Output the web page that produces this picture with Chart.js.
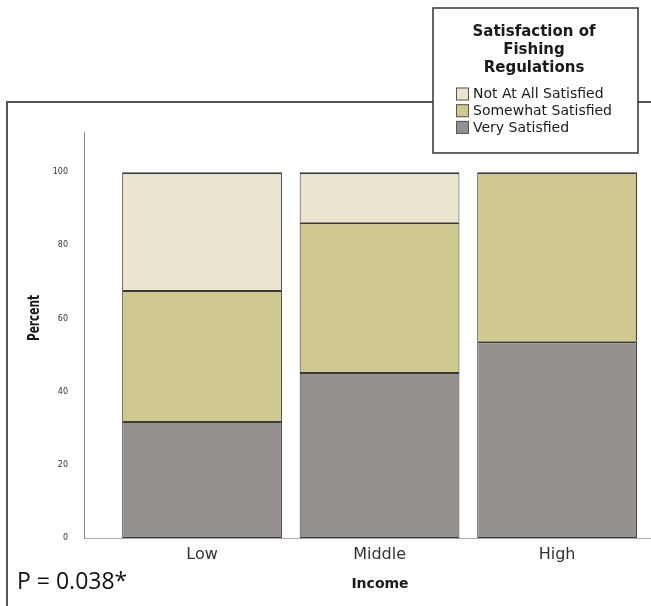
<!DOCTYPE html>
<html>
<head>
<meta charset="utf-8">
<script src="https://cdn.jsdelivr.net/npm/chart.js@4.4.1/dist/chart.umd.min.js"></script>
<style>
  html, body { margin: 0; padding: 0; background: #ffffff; }
  #wrap { width: 651px; height: 606px; position: relative; }
</style>
</head>
<body>
<div id="wrap"><canvas id="c"></canvas></div>
<script>
// ---- data ----
const incomeLabels = ['Low', 'Middle', 'High'];
const seriesNames = ['Very Satisfied', 'Somewhat Satisfied', 'Not At All Satisfied'];
const veryValues = [32.0, 45.4, 53.8];
const somewhatValues = [35.8, 40.9, 46.2];
const notAtAllValues = [32.2, 13.7, 0];
const yTickValues = [0, 20, 40, 60, 80, 100];
const legendTitleLines = ['Satisfaction of', 'Fishing', 'Regulations'];
const xAxisTitle = 'Income';
const yAxisTitle = 'Percent';
const pValueText = 'P = 0.038*';

const seriesColors = ['#958f8d', '#cfc98f', '#ebe5d0'];

function toPoints(arr) { return arr.map((v, i) => ({ x: i, y: v })); }

const ds = (label, vals, color, bottom) => ({
  label: label,
  data: toPoints(vals),
  backgroundColor: color,
  borderColor: '#3a3a3a',
  borderWidth: { top: 2, left: 1, right: 1, bottom: bottom },
  borderSkipped: false,
  barPercentage: 0.9,
  categoryPercentage: 1.0
});

const decor = {
  id: 'decor',
  beforeDraw(chart) {
    const ctx = chart.ctx;
    ctx.save();
    ctx.strokeStyle = '#555';
    ctx.lineWidth = 2;
    ctx.strokeRect(7, 102, 760, 700);
    ctx.restore();
  },
  afterDraw(chart) {
    const ctx = chart.ctx;
    ctx.save();
    ctx.fillStyle = '#1a1a1a';
    ctx.textAlign = 'center';
    ctx.textBaseline = 'middle';
    ctx.font = 'bold 14px "DejaVu Sans"';
    ctx.fillText(xAxisTitle, 380, 584);

    ctx.save();
    ctx.translate(35, 318);
    ctx.rotate(-Math.PI / 2);
    ctx.scale(0.66, 1);
    ctx.font = 'bold 16px "DejaVu Sans"';
    ctx.fillText(yAxisTitle, 0, 0);
    ctx.restore();

    ctx.textAlign = 'left';
    ctx.font = '23px "Open Sans"';
    ctx.fillStyle = '#111';
    ctx.fillText(pValueText, 17, 582);

    // legend box
    ctx.fillStyle = '#ffffff';
    ctx.fillRect(433, 8, 205, 145);
    ctx.strokeStyle = '#333';
    ctx.lineWidth = 1.5;
    ctx.strokeRect(433, 8, 205, 145);

    ctx.fillStyle = '#1a1a1a';
    ctx.textAlign = 'center';
    ctx.font = 'bold 15px "DejaVu Sans"';
    legendTitleLines.forEach((t, i) => ctx.fillText(t, 534, 32.5 + i * 18));

    const items = chart.data.datasets.map(d => ({ label: d.label, color: d.backgroundColor })).reverse();
    ctx.font = '14px "DejaVu Sans"';
    ctx.textAlign = 'left';
    items.forEach((it, i) => {
      const cy = 94 + i * 16.7;
      ctx.fillStyle = it.color;
      ctx.fillRect(456, cy - 6.5, 13, 13);
      ctx.strokeStyle = '#555';
      ctx.lineWidth = 1;
      ctx.strokeRect(456.5, cy - 6, 12, 12);
      ctx.fillStyle = '#1a1a1a';
      ctx.fillText(it.label, 473, cy + 0.5);
    });
    ctx.restore();
  }
};

new Chart(document.getElementById('c'), {
  type: 'bar',
  data: {
    datasets: [
      ds(seriesNames[0], veryValues, seriesColors[0], 1),
      ds(seriesNames[1], somewhatValues, seriesColors[1], 0),
      ds(seriesNames[2], notAtAllValues, seriesColors[2], 0)
    ]
  },
  options: {
    responsive: true,
    maintainAspectRatio: false,
    animation: false,
    layout: { padding: { top: 132, left: 0, right: 0, bottom: 0 } },
    plugins: { legend: { display: false }, tooltip: { enabled: false } },
    scales: {
      x: {
        type: 'linear',
        stacked: true,
        offset: false,
        min: -0.665,
        max: 2.529,
        afterBuildTicks: s => { s.ticks = [0, 1, 2].map(v => ({ value: v })); },
        afterFit: s => { s.height = 68; },
        grid: { display: false, drawTicks: false, offset: false },
        border: { display: true, color: '#aaaaaa', width: 1 },
        ticks: {
          callback: v => incomeLabels[v] ?? '',
          font: { family: 'DejaVu Sans', size: 16 },
          color: '#333',
          padding: 7,
          maxRotation: 0
        }
      },
      y: {
        stacked: true,
        min: 0,
        max: 111,
        afterBuildTicks: s => { s.ticks = yTickValues.map(v => ({ value: v })); },
        afterFit: s => { s.width = 84; },
        grid: { display: false, drawTicks: false },
        border: { display: true, color: '#888888', width: 1 },
        ticks: {
          font: { family: 'DejaVu Sans', size: 8 },
          color: '#333',
          padding: 16
        }
      }
    }
  },
  plugins: [decor]
});
</script>
</body>
</html>
